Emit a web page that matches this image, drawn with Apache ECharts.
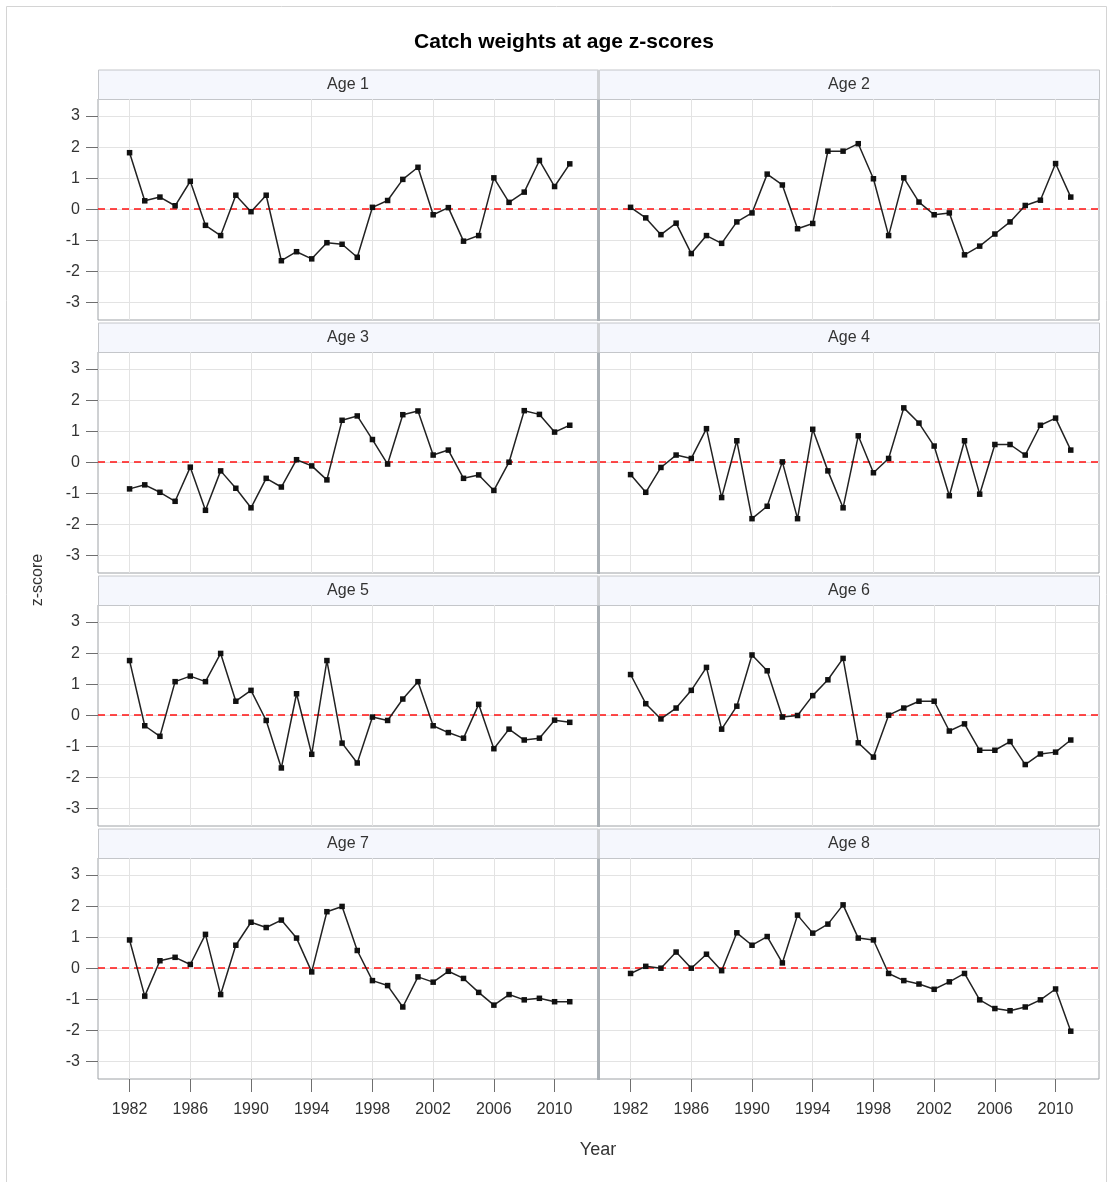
<!DOCTYPE html>
<html>
<head>
<meta charset="utf-8">
<script src="https://cdn.jsdelivr.net/npm/echarts@6/dist/echarts.min.js"></script>
<style>
  html, body { margin: 0; padding: 0; background: #fff; }
  #chart { width: 1113px; height: 1182px; }
</style>
</head>
<body>
<div id="chart"></div>
<script>
const years = [1982,1983,1984,1985,1986,1987,1988,1989,1990,1991,1992,1993,1994,1995,1996,1997,1998,1999,2000,2001,2002,2003,2004,2005,2006,2007,2008,2009,2010,2011];
const ageLabels = ['Age 1','Age 2','Age 3','Age 4','Age 5','Age 6','Age 7','Age 8'];
const age1 = [1.82,0.27,0.39,0.11,0.90,-0.52,-0.85,0.45,-0.08,0.45,-1.66,-1.37,-1.60,-1.08,-1.13,-1.55,0.06,0.28,0.96,1.35,-0.18,0.05,-1.03,-0.85,1.01,0.22,0.55,1.57,0.73,1.46];
const age2 = [0.06,-0.28,-0.82,-0.45,-1.43,-0.85,-1.10,-0.41,-0.12,1.13,0.78,-0.63,-0.46,1.87,1.87,2.11,0.98,-0.85,1.01,0.23,-0.18,-0.12,-1.47,-1.19,-0.80,-0.41,0.12,0.29,1.47,0.39];
const age3 = [-0.86,-0.73,-0.97,-1.26,-0.16,-1.55,-0.28,-0.84,-1.47,-0.52,-0.80,0.08,-0.12,-0.57,1.35,1.49,0.73,-0.06,1.53,1.65,0.23,0.39,-0.52,-0.41,-0.91,0.00,1.66,1.54,0.97,1.19];
const age4 = [-0.40,-0.97,-0.17,0.23,0.12,1.08,-1.14,0.69,-1.82,-1.42,0.01,-1.82,1.06,-0.28,-1.47,0.85,-0.34,0.12,1.75,1.26,0.52,-1.08,0.69,-1.03,0.57,0.57,0.23,1.19,1.42,0.39];
const age5 = [1.76,-0.34,-0.68,1.08,1.26,1.08,1.99,0.45,0.80,-0.17,-1.70,0.69,-1.26,1.76,-0.90,-1.54,-0.06,-0.17,0.52,1.08,-0.34,-0.56,-0.74,0.35,-1.08,-0.45,-0.80,-0.74,-0.16,-0.23];
const age6 = [1.31,0.37,-0.12,0.23,0.80,1.54,-0.45,0.29,1.94,1.43,-0.06,-0.01,0.63,1.14,1.83,-0.89,-1.35,0.00,0.23,0.45,0.45,-0.51,-0.28,-1.13,-1.13,-0.85,-1.59,-1.25,-1.19,-0.80];
const age7 = [0.91,-0.90,0.24,0.35,0.12,1.09,-0.85,0.74,1.48,1.31,1.55,0.97,-0.12,1.82,1.99,0.57,-0.40,-0.56,-1.25,-0.28,-0.45,-0.10,-0.33,-0.78,-1.19,-0.85,-1.02,-0.97,-1.08,-1.08];
const age8 = [-0.17,0.06,0.00,0.52,0.00,0.45,-0.08,1.14,0.74,1.02,0.17,1.71,1.13,1.42,2.04,0.97,0.91,-0.17,-0.40,-0.51,-0.68,-0.44,-0.17,-1.02,-1.30,-1.37,-1.25,-1.02,-0.67,-2.03];
const xTickValues = [1982,1986,1990,1994,1998,2002,2006,2010];
const yTickValues = [-3,-2,-1,0,1,2,3];

const allAges = [age1, age2, age3, age4, age5, age6, age7, age8];
const FONT = 'Liberation Sans, Arial, sans-serif';

const rowTops = [99, 352, 605, 858];
const colLefts = [98, 599];
const plotW = 500, plotH = 221, stripH = 29.5;

const grids = [], xAxes = [], yAxes = [], series = [], graphics = [];

graphics.push({
  type: 'rect', silent: true, z: -10,
  shape: { x: 6.5, y: 6.5, width: 1100, height: 1180 },
  style: { fill: 'none', stroke: '#d4d4d4', lineWidth: 1 }
});

allAges.forEach((vals, i) => {
  const row = Math.floor(i / 2), col = i % 2;
  const top = rowTops[row], left = colLefts[col];
  grids.push({ left: left, top: top, width: plotW, height: plotH, show: true,
    borderColor: '#9ea2a6', borderWidth: 1, backgroundColor: '#fff' });
  const bottomRow = row === 3, leftCol = col === 0;
  xAxes.push({
    type: 'value', gridIndex: i, min: 1979.92, max: 2012.86, position: 'bottom',
    axisLine: { show: false, onZero: false },
    axisTick: { show: bottomRow, inside: false, length: 13, customValues: xTickValues, lineStyle: { color: '#6f6f6f', width: 1 } },
    axisLabel: { show: bottomRow, customValues: xTickValues, margin: 23, color: '#333',
      fontFamily: FONT, fontSize: 16, formatter: v => String(v) },
    splitLine: { show: true, lineStyle: { color: '#e3e3e3', width: 1 } }
  });
  yAxes.push({
    type: 'value', gridIndex: i, min: -3.57, max: 3.55, position: 'left',
    axisLine: { show: false, onZero: false },
    axisTick: { show: leftCol, inside: false, length: 12, customValues: yTickValues, lineStyle: { color: '#6f6f6f', width: 1 } },
    axisLabel: { show: leftCol, customValues: yTickValues, margin: 18, color: '#333',
      fontFamily: FONT, fontSize: 16, padding: [4, 0, 0, 0] },
    splitLine: { show: true, lineStyle: { color: '#e3e3e3', width: 1 } }
  });
  series.push({
    type: 'line', xAxisIndex: i, yAxisIndex: i,
    data: years.map((y, k) => [y, vals[k]]),
    symbol: 'rect', symbolSize: 5.5, showSymbol: true,
    lineStyle: { color: '#222', width: 1.5 },
    itemStyle: { color: '#111' },
    z: 5,
    markLine: {
      silent: true, symbol: ['none', 'none'], label: { show: false },
      lineStyle: { color: '#ff1010', type: [7, 5], width: 1.5 },
      data: [{ yAxis: 0 }], z: 3
    }
  });
  graphics.push({
    type: 'rect', silent: true,
    shape: { x: left + 0.5, y: top - stripH + 0.5, width: plotW, height: stripH },
    style: { fill: '#f5f7fd', stroke: '#c4c6ca', lineWidth: 1 }
  });
  graphics.push({
    type: 'text', silent: true,
    style: { text: ageLabels[i], x: left + plotW / 2, y: top - stripH / 2 + 0.5,
      textAlign: 'center', textVerticalAlign: 'middle',
      font: '16px ' + FONT, fill: '#333' }
  });
  if (col === 0) {
    graphics.push({
      type: 'rect', silent: true, z: 10,
      shape: { x: 597, y: top, width: 3, height: plotH + 1 },
      style: { fill: '#aab0b5' }
    });
    graphics.push({
      type: 'rect', silent: true, z: 10,
      shape: { x: 597, y: top - stripH + 0.5, width: 3, height: stripH },
      style: { fill: '#d0d2d5' }
    });
  }
});

graphics.push({
  type: 'text', silent: true,
  style: { text: 'Catch weights at age z-scores', x: 564, y: 42,
    textAlign: 'center', textVerticalAlign: 'middle',
    font: 'bold 21px ' + FONT, fill: '#000' }
});
graphics.push({
  type: 'text', silent: true, x: 38, y: 580, rotation: Math.PI / 2,
  style: { text: 'z-score', x: 0, y: 0,
    textAlign: 'center', textVerticalAlign: 'middle',
    font: '16px ' + FONT, fill: '#333' }
});
graphics.push({
  type: 'text', silent: true,
  style: { text: 'Year', x: 598, y: 1150,
    textAlign: 'center', textVerticalAlign: 'middle',
    font: '18px ' + FONT, fill: '#333' }
});

const chart = echarts.init(document.getElementById('chart'), null, { renderer: 'canvas' });
chart.setOption({
  animation: false,
  backgroundColor: '#fff',
  grid: grids, xAxis: xAxes, yAxis: yAxes, series: series,
  graphic: graphics
});
</script>
</body>
</html>
